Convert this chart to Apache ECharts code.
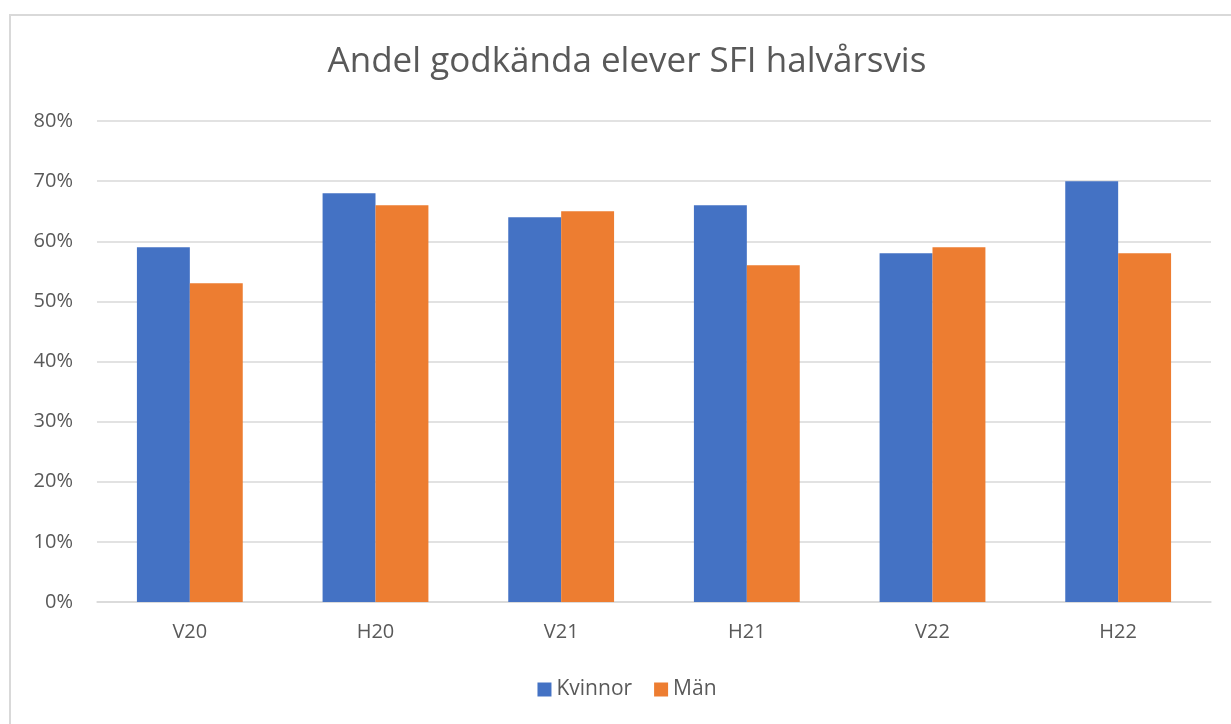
<!DOCTYPE html>
<html>
<head>
<meta charset="utf-8">
<script src="https://cdn.jsdelivr.net/npm/echarts@6/dist/echarts.min.js"></script>
<style>
  html, body { margin: 0; padding: 0; background: #fff; overflow: hidden; }
  #frame {
    position: absolute; left: 9px; top: 14px;
    width: 1240px; height: 730px;
    border: 2px solid #d9d9d9; box-sizing: border-box;
  }
  #chart { position: absolute; left: 0; top: 0; width: 1254px; height: 724px; }
</style>
</head>
<body>
<div id="frame"></div>
<div id="chart"></div>
<script>
const categories = ['V20', 'H20', 'V21', 'H21', 'V22', 'H22']
const kvinnor = [59, 68, 64, 66, 58, 70]
const man = [53, 66, 65, 56, 59, 58]

const font = '"Open Sans", "Noto Sans", sans-serif'
const chart = echarts.init(document.getElementById('chart'))

chart.setOption({
  animation: false,
  title: {
    text: 'Andel godkända elever SFI halvårsvis',
    left: 'center',
    top: 40,
    textStyle: { color: '#595959', fontSize: 35, fontWeight: 'normal', fontFamily: font },
  },
  legend: {
    bottom: 19,
    left: 'center',
    itemWidth: 14,
    itemHeight: 14,
    itemGap: 22,
    icon: 'rect',
    textStyle: { color: '#595959', fontSize: 21, fontFamily: font },
  },
  grid: { left: 97, right: 43, top: 121, bottom: 122 },
  xAxis: {
    type: 'category',
    data: categories,
    axisLine: { lineStyle: { color: '#d9d9d9', width: 1.5 } },
    axisTick: { show: false },
    axisLabel: { color: '#595959', fontSize: 20, margin: 20, fontFamily: font },
  },
  yAxis: {
    type: 'value',
    min: 0,
    max: 80,
    interval: 10,
    axisLabel: { color: '#595959', fontSize: 20, margin: 24, formatter: '{value}%', fontFamily: font },
    splitLine: { lineStyle: { color: '#d9d9d9', width: 1.5 } },
  },
  series: [
    {
      name: 'Kvinnor',
      type: 'bar',
      data: kvinnor,
      barGap: 0,
      barCategoryGap: '43%',
      itemStyle: { color: '#4472c4' },
    },
    {
      name: 'Män',
      type: 'bar',
      data: man,
      barGap: 0,
      barCategoryGap: '43%',
      itemStyle: { color: '#ed7d31' },
    },
  ],
})
</script>
</body>
</html>
